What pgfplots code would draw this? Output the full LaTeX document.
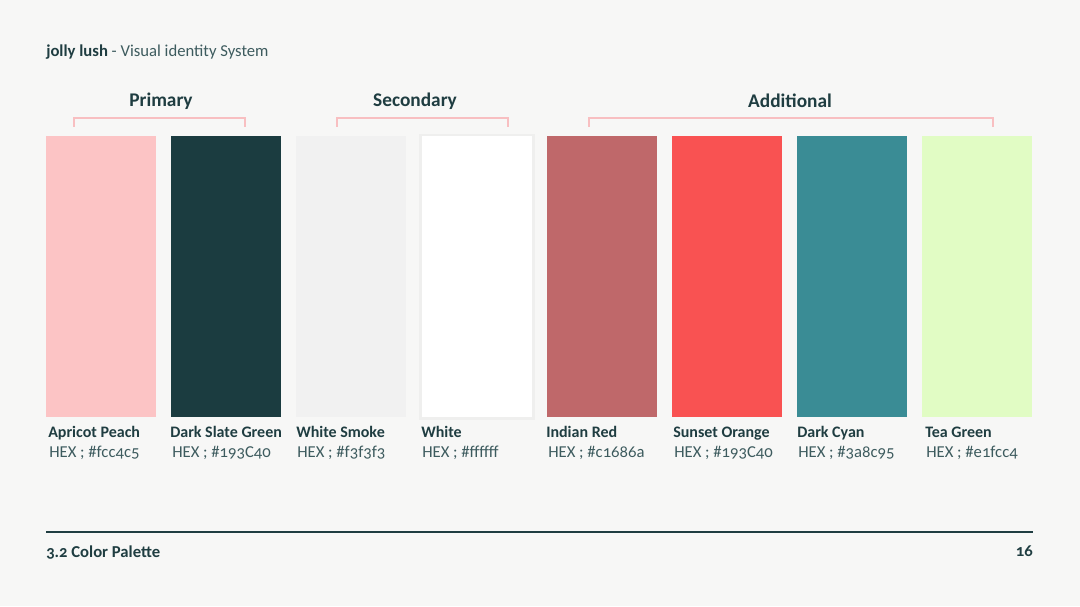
\documentclass[border=0pt]{standalone}
\usepackage{pgfplots}
\pgfplotsset{compat=1.18}
\usepackage{fontspec}
\setmainfont{Carlito}[Numbers=OldStyle]
\definecolor{bg}{HTML}{F7F7F6}
\definecolor{ink}{HTML}{1F3D41}
\definecolor{inklight}{HTML}{3D5B5E}
\definecolor{brk}{HTML}{F8BFC1}
\definecolor{cA}{HTML}{FCC4C5}
\definecolor{cB}{HTML}{1B3C40}
\definecolor{cC}{HTML}{F1F1F1}
\definecolor{cD}{HTML}{FFFFFF}
\definecolor{cE}{HTML}{BF686A}
\definecolor{cF}{HTML}{F95252}
\definecolor{cG}{HTML}{3A8C95}
\definecolor{cH}{HTML}{E1FCC4}
\begin{document}
\begin{tikzpicture}
\begin{axis}[width=810pt,height=454.5pt,scale only axis,
  xmin=0,xmax=1080,ymin=0,ymax=606,y dir=reverse,hide axis,clip=false]
% background
\addplot[fill=bg,draw=none,mark=none] coordinates {(0,0) (1080,0) (1080,606) (0,606)} --cycle;
% brackets
\addplot[brk,line width=1.5pt,mark=none] coordinates {(74,127) (74,118) (245,118) (245,127)};
\addplot[brk,line width=1.5pt,mark=none] coordinates {(337,127) (337,118) (508,118) (508,127)};
\addplot[brk,line width=1.5pt,mark=none] coordinates {(589,127) (589,118) (993,118) (993,127)};
% shadow for white swatch
\addplot[fill=black,opacity=0.03,draw=none,mark=none] coordinates {(419,134) (535,134) (535,420) (419,420)} --cycle;
% swatches
\addplot[fill=cA,draw=none,mark=none] coordinates {(46,136) (156,136) (156,417) (46,417)} --cycle;
\addplot[fill=cB,draw=none,mark=none] coordinates {(171,136) (281,136) (281,417) (171,417)} --cycle;
\addplot[fill=cC,draw=none,mark=none] coordinates {(296,136) (406,136) (406,417) (296,417)} --cycle;
\addplot[fill=cD,draw=none,mark=none] coordinates {(422,136) (532,136) (532,417) (422,417)} --cycle;
\addplot[fill=cE,draw=none,mark=none] coordinates {(547,136) (657,136) (657,417) (547,417)} --cycle;
\addplot[fill=cF,draw=none,mark=none] coordinates {(672,136) (782,136) (782,417) (672,417)} --cycle;
\addplot[fill=cG,draw=none,mark=none] coordinates {(797,136) (907,136) (907,417) (797,417)} --cycle;
\addplot[fill=cH,draw=none,mark=none] coordinates {(922,136) (1032,136) (1032,417) (922,417)} --cycle;
% bottom rule
\addplot[ink,line width=2pt,mark=none] coordinates {(46,532) (1033,532)};
% header
\node[anchor=base west,inner sep=0,font=\fontsize{12.5pt}{14pt}\selectfont,text=ink] at (axis cs:46,57)
  {\textbf{jolly lush} {\color{inklight}- Visual identity System}};
% section titles
\node[anchor=base,inner sep=0,font=\fontsize{14.5pt}{17pt}\selectfont\bfseries,text=ink] at (axis cs:161,107) {Primary};
\node[anchor=base,inner sep=0,font=\fontsize{14.5pt}{17pt}\selectfont\bfseries,text=ink] at (axis cs:415,107) {Secondary};
\node[anchor=base,inner sep=0,font=\fontsize{14.5pt}{17pt}\selectfont\bfseries,text=ink] at (axis cs:790,108) {Additional};
% names
\foreach \x/\n in {48/Apricot Peach,170/Dark Slate Green,296/White Smoke,421/White,546/Indian Red,673/Sunset Orange,797/Dark Cyan,925/Tea Green}{
  \edef\tmp{\noexpand\node[anchor=base west,inner sep=0,font=\noexpand\fontsize{12pt}{14pt}\noexpand\selectfont\noexpand\bfseries,text=ink] at (axis cs:\x,437) {\n};}\tmp
}
\foreach \x/\h in {49/fcc4c5,172/193C40,297/f3f3f3,422/ffffff,548/c1686a,674/193C40,798/3a8c95,926/e1fcc4}{
  \edef\tmp{\noexpand\node[anchor=base west,inner sep=0,font=\noexpand\fontsize{12.5pt}{14pt}\noexpand\selectfont,text=inklight] at (axis cs:\x,457) {HEX ; \noexpand\#\h};}\tmp
}
% footer
\node[anchor=base west,inner sep=0,font=\fontsize{12.5pt}{14pt}\selectfont\bfseries,text=ink] at (axis cs:46,557) {3.2 Color Palette};
\node[anchor=base east,inner sep=0,font=\fontsize{12.5pt}{14pt}\selectfont\bfseries,text=ink] at (axis cs:1033,556) {16};
\end{axis}
\end{tikzpicture}
\end{document}
